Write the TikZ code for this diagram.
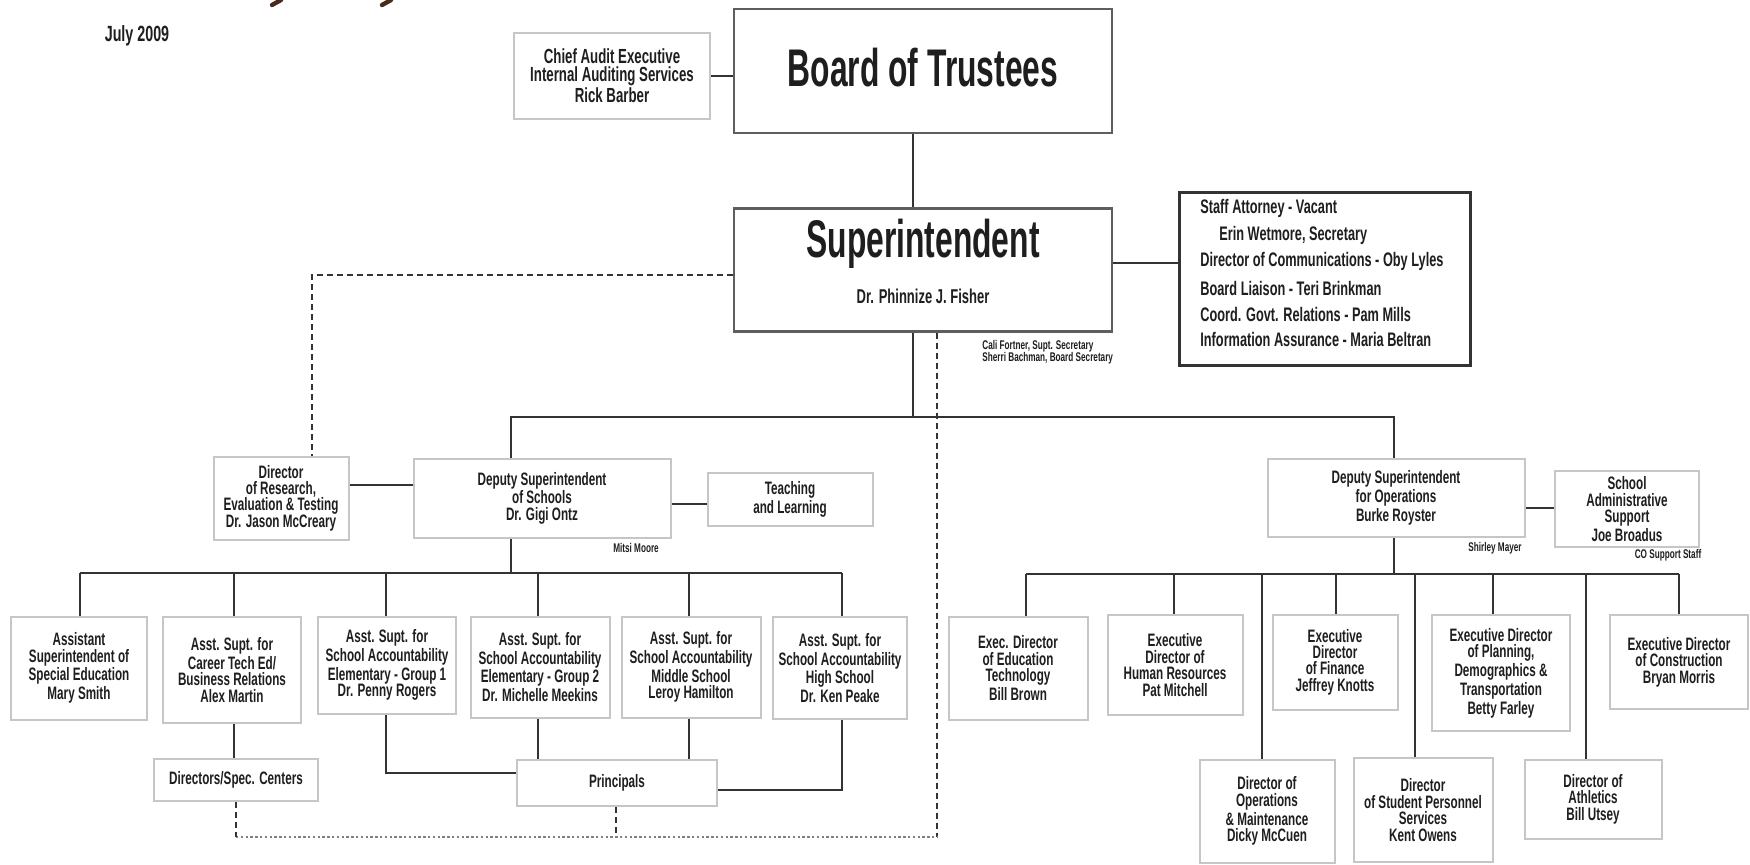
\documentclass[tikz,border=0pt]{standalone}
\usepackage{fontspec}
\setmainfont{Liberation Sans}[FakeStretch=0.65]
\newfontfamily\bigf{Liberation Sans}[FakeStretch=0.6]
\definecolor{lbox}{HTML}{C6C6C6}
\definecolor{dbox}{HTML}{5E5E5E}
\definecolor{ln}{HTML}{333333}
\definecolor{tbrown}{HTML}{4A2A1A}
\definecolor{txt}{HTML}{1E1E1E}
\begin{document}
\begin{tikzpicture}[x=0.5pt,y=-0.5pt,
  sz/.style 2 args={minimum width=#1*0.5pt, minimum height=#2*0.5pt},
  rbox/.style={draw=lbox, line width=1pt, inner sep=0pt, align=center, text=txt,
    font=\bfseries\fontsize{9}{8.2}\selectfont},
  mbox/.style={draw=dbox, line width=1.2pt, inner sep=0pt, align=center, text=txt},
  conn/.style={draw=ln, line width=0.9pt},
  dsh/.style={draw=ln, line width=0.7pt, dash pattern=on 3pt off 2pt},
  dtt/.style={draw=gray, line width=0.9pt, dash pattern=on 1.2pt off 1.2pt},
  note/.style={font=\bfseries\fontsize{6.3}{6.2}\selectfont, inner sep=0pt, align=left, text=txt},
  stf/.style={font=\bfseries\fontsize{9.8}{9.8}\selectfont, inner sep=0pt, anchor=west, text=txt},
  big/.style={font=\bigf\bfseries\fontsize{26.5}{26.5}\selectfont, inner sep=0pt, text=txt},
]
\useasboundingbox (0,0) rectangle (1750,864);
\fill[white] (0,0) rectangle (1750,864);

% cropped title descenders
\draw[tbrown, line width=2.2pt, line cap=round] (272,5) -- (281,0);
\draw[tbrown, line width=2.2pt, line cap=round] (382,5) -- (391,0);

\node[font=\bfseries\fontsize{11}{11}\selectfont, inner sep=0pt, text=txt] (date) at (137,36) {July 2009};

% top
\node[rbox, sz={196}{86}, font=\bfseries\fontsize{10.2}{8.8}\selectfont] (audit) at (612,76)
  {Chief Audit Executive\\Internal Auditing Services\\Rick Barber};
\node[mbox, sz={378}{124}] (board) at (923,71) {};
\node[big] (boardtitle) at (923,68) {Board of Trustees};
\node[mbox, sz={378}{123}] (sup) at (923,270) {};
\node[big] (suptitle) at (923,244) {Superintendent};
\node[font=\bfseries\fontsize{10}{10}\selectfont, inner sep=0pt, text=txt] (supname) at (923,296) {Dr. Phinnize J. Fisher};

\node[mbox, draw=ln, sz={291}{173}] (staff) at (1325,279) {};
\node[stf] (s1) at (1200,208) {Staff Attorney - Vacant};
\node[stf] (s2) at (1219,235) {Erin Wetmore, Secretary};
\node[stf] (s3) at (1200,261) {Director of Communications - Oby Lyles};
\node[stf] (s4) at (1200,288) {Board Liaison - Teri Brinkman};
\node[stf] (s5) at (1200,314) {Coord. Govt. Relations - Pam Mills};
\node[stf] (s6) at (1200,339) {Information Assurance - Maria Beltran};

\node[note, anchor=west] (calli) at (982,352) {Cali Fortner, Supt. Secretary\\Sherri Bachman, Board Secretary};

% level 3
\node[rbox, sz={135}{83}] (dirres) at (281,498) {Director\\of Research,\\Evaluation \& Testing\\Dr. Jason McCreary};
\node[rbox, sz={257}{79}] (dschool) at (542,498) {Deputy Superintendent\\of Schools\\Dr. Gigi Ontz};
\node[rbox, sz={165}{53}] (teach) at (790,499) {Teaching\\and Learning};
\node[note] (mitsi) at (636,548) {Mitsi Moore};

\node[rbox, sz={257}{78}] (dops) at (1396,498) {Deputy Superintendent\\for Operations\\Burke Royster};
\node[rbox, sz={144}{76}] (sas) at (1627,509) {School\\Administrative\\Support\\Joe Broadus};
\node[note] (shirley) at (1495,548) {Shirley Mayer};
\node[note] (costaff) at (1668,555) {CO Support Staff};

% schools row
\node[rbox, sz={136}{103}] (sped) at (79,668) {Assistant\\Superintendent of\\Special Education\\Mary Smith};
\node[rbox, sz={138}{106}] (ct) at (232,670) {Asst. Supt. for\\Career Tech Ed/\\Business Relations\\Alex Martin};
\node[rbox, sz={138}{97}] (g1) at (387,665) {Asst. Supt. for\\School Accountability\\Elementary - Group 1\\Dr. Penny Rogers};
\node[rbox, sz={139}{101}] (g2) at (540,667) {Asst. Supt. for\\School Accountability\\Elementary - Group 2\\Dr. Michelle Meekins};
\node[rbox, sz={139}{101}] (ms) at (691,667) {Asst. Supt. for\\School Accountability\\Middle School\\Leroy Hamilton};
\node[rbox, sz={134}{102}] (hs) at (840,668) {Asst. Supt. for\\School Accountability\\High School\\Dr. Ken Peake};
\node[rbox, sz={164}{42}] (dsc) at (236,780) {Directors/Spec. Centers};
\node[rbox, sz={200}{46}] (prin) at (617,783) {Principals};

% operations row
\node[rbox, sz={139}{103}] (edtech) at (1018,668) {Exec. Director\\of Education\\Technology\\Bill Brown};
\node[rbox, sz={135}{100}] (hr) at (1175,665) {Executive\\Director of\\Human Resources\\Pat Mitchell};
\node[rbox, sz={125}{95}] (fin) at (1335,662) {Executive\\Director\\of Finance\\Jeffrey Knotts};
\node[rbox, sz={138}{116}] (plan) at (1501,673) {Executive Director\\of Planning,\\Demographics \&\\Transportation\\Betty Farley};
\node[rbox, sz={138}{94}] (constr) at (1679,662) {Executive Director\\of Construction\\Bryan Morris};
\node[rbox, sz={135}{103}] (opsm) at (1267,811) {Director of\\Operations\\\& Maintenance\\Dicky McCuen};
\node[rbox, sz={139}{104}] (stud) at (1423,810) {Director\\of Student Personnel\\Services\\Kent Owens};
\node[rbox, sz={137}{79}] (ath) at (1593,799) {Director of\\Athletics\\Bill Utsey};

% connectors top
\draw[conn] (audit.east) -- (audit.east -| board.west);
\draw[conn] (913,0 |- board.south) -- (913,0 |- sup.north);
\draw[conn] (sup.east |- 0,263) -- (staff.west |- 0,263);
\draw[dsh] (sup.west |- 0,275) -| (312,0 |- dirres.north);
\draw[conn] (913,0 |- sup.south) -- (913,417);
\draw[conn] (511,0 |- dschool.north) -- (511,417) -- (1394,417) -- (1394,0 |- dops.north);
\draw[conn] (dirres.east |- 0,485) -- (dschool.west |- 0,485);
\draw[conn] (dschool.east |- 0,504) -- (teach.west |- 0,504);
\draw[conn] (dops.east |- 0,508) -- (sas.west |- 0,508);

% schools tree
\draw[conn] (511,0 |- dschool.south) -- (511,573);
\draw[conn] (80,573) -- (842,573);
\draw[conn] (80,573) -- (80,0 |- sped.north);
\draw[conn] (234,573) -- (234,0 |- ct.north);
\draw[conn] (386,573) -- (386,0 |- g1.north);
\draw[conn] (538,573) -- (538,0 |- g2.north);
\draw[conn] (689,573) -- (689,0 |- ms.north);
\draw[conn] (842,573) -- (842,0 |- hs.north);
\draw[conn] (234,0 |- ct.south) -- (234,0 |- dsc.north);
\draw[conn] (386,0 |- g1.south) |- (prin.west |- 0,773);
\draw[conn] (538,0 |- g2.south) -- (538,0 |- prin.north);
\draw[conn] (689,0 |- ms.south) -- (689,0 |- prin.north);
\draw[conn] (842,0 |- hs.south) |- (prin.east |- 0,790);

% dotted / dashed links
\draw[dsh] (937,0 |- sup.south) -- (937,837);
\draw[dtt] (236,837) -- (937,837);
\draw[dsh] (236,0 |- dsc.south) -- (236,837);
\draw[dsh] (616,0 |- prin.south) -- (616,837);

% operations tree
\draw[conn] (1394,0 |- dops.south) -- (1394,574);
\draw[conn] (1026,574) -- (1679,574);
\draw[conn] (1026,574) -- (1026,0 |- edtech.north);
\draw[conn] (1174,574) -- (1174,0 |- hr.north);
\draw[conn] (1262,574) -- (1262,0 |- opsm.north);
\draw[conn] (1336,574) -- (1336,0 |- fin.north);
\draw[conn] (1415,574) -- (1415,0 |- stud.north);
\draw[conn] (1493,574) -- (1493,0 |- plan.north);
\draw[conn] (1586,574) -- (1586,0 |- ath.north);
\draw[conn] (1679,574) -- (1679,0 |- constr.north);
\end{tikzpicture}
\end{document}
